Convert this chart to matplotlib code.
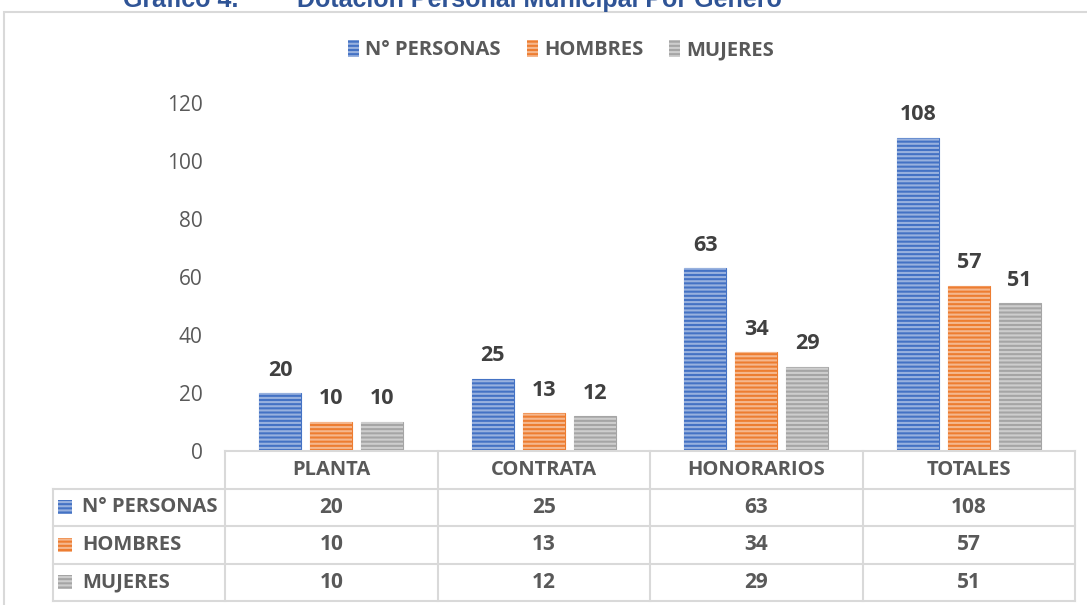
import matplotlib.pyplot as plt
import matplotlib.patches as mpatches
from matplotlib.patches import Rectangle
import numpy as np

# --- datos ---
categorias = ["PLANTA", "CONTRATA", "HONORARIOS", "TOTALES"]
series = ["N° PERSONAS", "HOMBRES", "MUJERES"]
personas = [20, 25, 63, 108]
hombres = [10, 13, 34, 57]
mujeres = [10, 12, 29, 51]
valores = [personas, hombres, mujeres]
yticks = [0, 20, 40, 60, 80, 100, 120]

COLORES = ["#4472C4", "#ED7D31", "#A5A5A5"]
RAYA = (1, 1, 1, 0.45)
GRIS_TXT = "#595959"
GRIS_LINEA = "#D9D9D9"
HATCH = "----"

plt.rcParams.update({
    "font.family": ["Open Sans", "DejaVu Sans"],
    "hatch.linewidth": 1.5,
})

W, H = 1087, 605
fig = plt.figure(figsize=(W / 100, H / 100), dpi=100)


def px_box(x0, y0, x1, y1):
    # caja en pixeles (origen arriba-izquierda) -> coords de figura
    return [x0 / W, 1 - y1 / H, (x1 - x0) / W, (y1 - y0) / H]


# marco exterior del grafico
fig.add_artist(Rectangle((4 / W, -0.1), 1.2, 1.1 - 12 / H, transform=fig.transFigure,
                         fill=False, edgecolor=GRIS_LINEA, linewidth=1.5))

# titulo (cortado arriba, como en la imagen)
fig.text(123 / W, 1 - 7 / H, "Gráfico 4.", fontsize=18, fontweight="bold",
         color="#2F5496", family="Liberation Sans", va="baseline", ha="left")
fig.text(297 / W, 1 - 7 / H, "Dotación Personal Municipal Por Género", fontsize=18,
         fontweight="bold", color="#2F5496", family="Liberation Sans",
         va="baseline", ha="left")

# --- grafico de barras ---
ax = fig.add_axes(px_box(225, 103, 1075, 451))
x = np.arange(len(categorias))
ancho = 0.198
paso = 0.24

for i, (serie, vals, color) in enumerate(zip(series, valores, COLORES)):
    pos = x + (i - 1) * paso
    ax.bar(pos, vals, width=ancho, color=color, edgecolor=color, linewidth=0.8, zorder=2)
    ax.bar(pos, vals, width=ancho, fill=False, hatch=HATCH, edgecolor=RAYA,
           linewidth=0, zorder=3)
    for xp, v in zip(pos, vals):
        ax.annotate(str(v), (xp, v), xytext=(0, 9), textcoords="offset points",
                    ha="center", va="bottom", fontsize=15.5, fontweight="bold",
                    color="#404040")

ax.set_xlim(-0.5, len(categorias) - 0.5)
ax.set_ylim(0, 120)
ax.set_yticks(yticks)
ax.set_yticklabels([str(t) for t in yticks], fontsize=15, color=GRIS_TXT)
ax.tick_params(axis="y", length=0, pad=16)
ax.set_xticks([])
for s in ax.spines.values():
    s.set_visible(False)

# --- leyenda ---
handles = [mpatches.Patch(facecolor=c, edgecolor=RAYA, hatch=HATCH, linewidth=0)
           for c in COLORES]
fig.legend(handles, series, loc="center", bbox_to_anchor=(561 / W, 1 - 50 / H),
           ncol=3, frameon=False, handlelength=0.55, handleheight=0.9,
           handletextpad=0.3, columnspacing=1.3,
           prop={"size": 14.5, "weight": "bold"}, labelcolor=GRIS_TXT)

# --- tabla de datos ---
tx = fig.add_axes(px_box(53, 451, 1075, 601))
izq = -0.5 - 172 / 212.5
tx.set_xlim(izq, len(categorias) - 0.5)
tx.set_ylim(4, 0)
tx.axis("off")

kw_linea = dict(color=GRIS_LINEA, linewidth=1.5, clip_on=False)
tx.plot([-0.5, len(categorias) - 0.5], [0, 0], **kw_linea)
for r in range(1, 5):
    tx.plot([izq, len(categorias) - 0.5], [r, r], **kw_linea)
tx.plot([izq, izq], [1, 4], **kw_linea)
for c in range(len(categorias) + 1):
    tx.plot([c - 0.5, c - 0.5], [0, 4], **kw_linea)

for j, cat in enumerate(categorias):
    tx.text(j, 0.5, cat, ha="center", va="center", fontsize=14.5,
            fontweight="bold", color=GRIS_TXT)

for i, (serie, vals, color) in enumerate(zip(series, valores, COLORES)):
    fila = i + 1.5
    tx.add_patch(Rectangle((izq + 5 / 212.5, fila - 0.19), 14 / 212.5, 0.38,
                           facecolor=color, edgecolor=RAYA, hatch=HATCH,
                           linewidth=0, clip_on=False))
    tx.text(izq + 29 / 212.5, fila, serie, ha="left", va="center", fontsize=14.5,
            fontweight="bold", color=GRIS_TXT)
    for j, v in enumerate(vals):
        tx.text(j, fila, str(v), ha="center", va="center", fontsize=15,
                fontweight="bold", color=GRIS_TXT)

fig.savefig("out.png", dpi=100)
